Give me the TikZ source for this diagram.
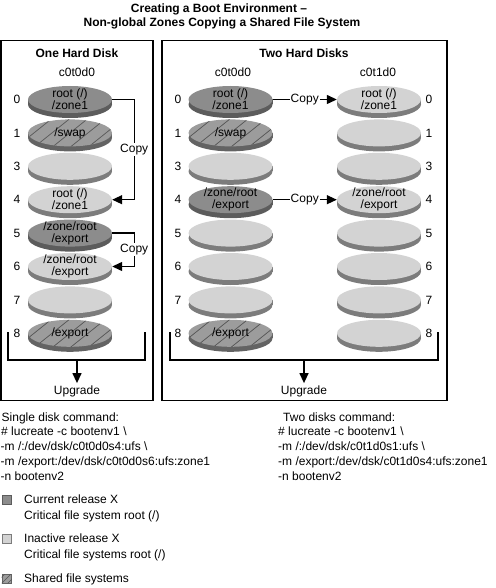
\documentclass[tikz,border=0pt]{standalone}
\usepackage{fontspec}
\setmainfont{Liberation Sans}
\usetikzlibrary{arrows.meta}
\definecolor{curF}{HTML}{8C8C8C}
\definecolor{curS}{HTML}{5C5C5C}
\definecolor{inaF}{HTML}{D3D3D3}
\definecolor{inaS}{HTML}{7C7C7C}
\definecolor{shaF}{HTML}{9C9C9C}
\definecolor{shaS}{HTML}{636363}
\definecolor{hatchC}{HTML}{555555}
\newcommand\dsk[6]{%
  \fill[#5] (#2,#3+5) ellipse (42 and 13.5);
  \fill[#5] (#2-42,#3) rectangle (#2+42,#3+5);
  \fill[#4] (#2,#3) ellipse (42 and 13.5);
  \node[disktext] (#1) at (#2,#3) {#6};}
\newcommand\hdsk[4]{%
  \fill[shaS] (#2,#3+5) ellipse (42 and 13.5);
  \fill[shaS] (#2-42,#3) rectangle (#2+42,#3+5);
  \fill[shaF] (#2,#3) ellipse (42 and 13.5);
  \begin{scope}
    \clip (#2,#3) ellipse (42 and 13.5);
    \foreach \hh in {-72,-54,...,72}
      \draw[hatchline] (#2+\hh-20,#3+16) -- (#2+\hh+20,#3-16);
  \end{scope}
  \node[disktext] (#1) at (#2,#3) {#4};}
\begin{document}
\begin{tikzpicture}[x=1pt,y=-1pt,
  txt/.style={font=\fontsize{12}{12}\selectfont, inner sep=0pt},
  disktext/.style={minimum width=84pt, minimum height=27pt, inner sep=0pt, align=center, font=\fontsize{12}{12}\selectfont},
  num/.style={font=\fontsize{12}{12}\selectfont, inner sep=0pt},
  hatchline/.style={hatchC, line width=0.7pt},
  frame/.style={line width=1.4pt},
  line/.style={line width=1.3pt},
  conn/.style={line width=1.3pt, -{Triangle[length=10pt,width=9pt]}},
  copylbl/.style={fill=white, font=\fontsize{12}{12}\selectfont, inner sep=1pt},
  hd/.style={font=\bfseries\fontsize{12}{12}\selectfont, inner sep=0pt},
  sq/.style={minimum width=9.5pt, minimum height=9pt, inner sep=0pt, draw=#1, line width=0.6pt},
]
\useasboundingbox (0,0) rectangle (495,588);
% titles
\node[hd, anchor=base] (t1) at (219,12.7) {Creating a Boot Environment –};
\node[hd, anchor=base] (t2) at (222,26.7) {Non-global Zones Copying a Shared File System};
% frames
\draw[frame] (1,40.5) rectangle (153,400.5);
\draw[frame] (162,40.5) rectangle (447,400.5);
\node[hd, anchor=base] (h1) at (77,58) {One Hard Disk};
\node[hd, anchor=base] (h2) at (304,58) {Two Hard Disks};
\node[txt, anchor=base] (d1) at (77,76.5) {c0t0d0};
\node[txt, anchor=base] (d2) at (233,76.5) {c0t0d0};
\node[txt, anchor=base] (d3) at (378,76.5) {c0t1d0};
% row numbers
\foreach \lab/\yy [count=\k] in {0/99.5,1/132.9,3/166.3,4/199.7,5/233.1,6/266.5,7/299.9,8/333.3}{
  \node[num] (na\k) at (17,\yy) {\lab};
  \node[num] (nb\k) at (178,\yy) {\lab};
  \node[num] (nc\k) at (429,\yy) {\lab};
}
% left disk stack
\dsk{L0}{70}{99.5}{curF}{curS}{root (/)\\/zone1}
\hdsk{L1}{70}{132.9}{/swap}
\dsk{L3}{70}{166.3}{inaF}{inaS}{}
\dsk{L4}{70}{199.7}{inaF}{inaS}{root (/)\\/zone1}
\dsk{L5}{70}{233.1}{curF}{curS}{/zone/root\\/export}
\dsk{L6}{70}{266.5}{inaF}{inaS}{/zone/root\\/export}
\dsk{L7}{70}{299.9}{inaF}{inaS}{}
\hdsk{L8}{70}{333.3}{/export}
% right box, first disk
\dsk{R0}{230.5}{99.5}{curF}{curS}{root (/)\\/zone1}
\hdsk{R1}{230.5}{132.9}{/swap}
\dsk{R3}{230.5}{166.3}{inaF}{inaS}{}
\dsk{R4}{230.5}{199.7}{curF}{curS}{/zone/root\\/export}
\dsk{R5}{230.5}{233.1}{inaF}{inaS}{}
\dsk{R6}{230.5}{266.5}{inaF}{inaS}{}
\dsk{R7}{230.5}{299.9}{inaF}{inaS}{}
\hdsk{R8}{230.5}{333.3}{/export}
% right box, second disk
\dsk{T0}{379}{99.5}{inaF}{inaS}{root (/)\\/zone1}
\dsk{T1}{379}{132.9}{inaF}{inaS}{}
\dsk{T3}{379}{166.3}{inaF}{inaS}{}
\dsk{T4}{379}{199.7}{inaF}{inaS}{/zone/root\\/export}
\dsk{T5}{379}{233.1}{inaF}{inaS}{}
\dsk{T6}{379}{266.5}{inaF}{inaS}{}
\dsk{T7}{379}{299.9}{inaF}{inaS}{}
\dsk{T8}{379}{333.3}{inaF}{inaS}{}
% copy connectors
\draw[conn] (L0.east) -- ++(22,0) |- node[pos=.25,copylbl] (cp1) {Copy} (L4.east);
\draw[conn] (L5.east) -- ++(22,0) |- node[pos=.25,copylbl] (cp2) {Copy} (L6.east);
\draw[conn] (R0.east) -- node[copylbl] (cp3) {Copy} (T0.west);
\draw[conn] (R4.east) -- node[copylbl] (cp4) {Copy} (T4.west);
% brackets and upgrade
\coordinate (b1l) at (8,332); \coordinate (b1r) at (145,332); \coordinate (u1) at (77,360);
\draw[line] (b1l) |- (u1) -| (b1r);
\node[txt, anchor=base, inner sep=2pt] (up1) at (77,394) {Upgrade};
\draw[conn] (u1) -- (up1);
\coordinate (b2l) at (170,332); \coordinate (b2r) at (438,332); \coordinate (u2) at (304,360);
\draw[line] (b2l) |- (u2) -| (b2r);
\node[txt, anchor=base, inner sep=2pt] (up2) at (304,394) {Upgrade};
\draw[conn] (u2) -- (up2);
% commands
\node[txt, anchor=base west] (s1) at (1.5,421) {Single disk command:};
\node[txt, anchor=base west] (s2) at (1,435.75) {\# lucreate -c bootenv1 \textbackslash};
\node[txt, anchor=base west] (s3) at (0.5,450.5) {-m /:/dev/dsk/c0t0d0s4:ufs \textbackslash};
\node[txt, anchor=base west] (s4) at (0.5,465.25) {-m /export:/dev/dsk/c0t0d0s6:ufs:zone1};
\node[txt, anchor=base west] (s5) at (0.5,480) {-n bootenv2};
\node[txt, anchor=base west] (w1) at (283,421) {Two disks command:};
\node[txt, anchor=base west] (w2) at (278,435.75) {\# lucreate -c bootenv1 \textbackslash};
\node[txt, anchor=base west] (w3) at (278,450.5) {-m /:/dev/dsk/c0t1d0s1:ufs \textbackslash};
\node[txt, anchor=base west] (w4) at (278,465.25) {-m /export:/dev/dsk/c0t1d0s4:ufs:zone1};
\node[txt, anchor=base west] (w5) at (278,480) {-n bootenv2};
% legend
\node[sq=curS, fill=curF] (k1) at (6.7,499.5) {};
\node[sq=inaS, fill=inaF] (k2) at (6.7,538.5) {};
\node[sq=shaS, fill=shaF] (k3) at (6.7,578.5) {};
\begin{scope}
  \clip (k3.south west) rectangle (k3.north east);
  \foreach \hh in {-6,0,6} \draw[hatchline, line width=0.5pt] ([xshift=\hh pt]k3.south west) -- ++(9,-9);
\end{scope}
\node[txt, anchor=base west] (e1) at (24,503.3) {Current release X};
\node[txt, anchor=base west] (e2) at (24,519.3) {Critical file system root (/)};
\node[txt, anchor=base west] (e3) at (24,542.3) {Inactive release X};
\node[txt, anchor=base west] (e4) at (24,558.3) {Critical file systems root (/)};
\node[txt, anchor=base west] (e5) at (24,582.3) {Shared file systems};
\end{tikzpicture}
\end{document}
